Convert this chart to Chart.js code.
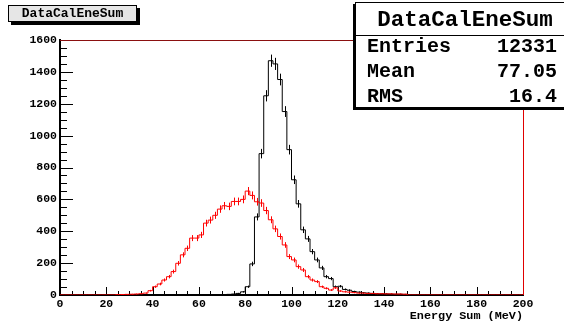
<!DOCTYPE html>
<html><head><meta charset="utf-8">
<script src="https://cdn.jsdelivr.net/npm/chart.js@4/dist/chart.umd.min.js"></script>
<style>
html,body{margin:0;padding:0;background:#fff;}
#wrap{position:relative;width:564px;height:324px;overflow:hidden;background:#fff;}
#c{position:absolute;left:0;top:0;}
.mono{font-family:"Liberation Mono","DejaVu Sans Mono",monospace;font-weight:bold;color:#000;}
#tbox{position:absolute;left:8px;top:5px;width:127px;height:15px;background:#e6e6e6;border:1px solid #000;box-shadow:3px 3px 0 #000;font-size:13px;line-height:15px;text-align:center;}
#sbox{position:absolute;left:355px;top:2px;width:230px;height:104px;background:#fff;border:1px solid #000;box-shadow:-2px 2px 0 #000;}
#sep{position:absolute;left:355px;top:35px;width:230px;height:1px;background:#000;}
.st{position:absolute;white-space:pre;}
</style></head>
<body>
<div id="wrap">
<canvas id="c" width="564" height="324"></canvas>
<div id="tbox" class="mono">DataCalEneSum</div>
<div id="sbox"></div>
<div id="sep"></div>
<div class="st mono" style="left:355px;width:220px;top:7px;font-size:22.5px;line-height:26px;text-align:center;">DataCalEneSum</div>
<div class="st mono" style="left:367px;top:36px;font-size:20px;line-height:22px;">Entries</div>
<div class="st mono" style="right:7px;top:36px;font-size:20px;line-height:22px;">12331</div>
<div class="st mono" style="left:367px;top:61px;font-size:20px;line-height:22px;">Mean</div>
<div class="st mono" style="right:7px;top:61px;font-size:20px;line-height:22px;">77.05</div>
<div class="st mono" style="left:367px;top:86px;font-size:20px;line-height:22px;">RMS</div>
<div class="st mono" style="right:7px;top:86px;font-size:20px;line-height:22px;">16.4</div>
</div>
<script>
// ---- data: 100 bins of 2 MeV from 0 to 200 MeV ----
const xMin = 0;
const xMax = 200;
const binWidth = 2;
// black histogram counts per bin
const blackCounts = [
  0,0,0,0,0,0,0,0,0,0,            // 0-20
  0,0,0,0,0,0,0,0,0,0,            // 20-40
  0,0,0,0,0,0,0,0,0,0,            // 40-60
  1,1,2,2,3,3,4,6,10,20,          // 60-80
  52,195,490,887,1250,1470,1450,1352,1151,912,   // 80-100
  723,572,409,352,272,220,170,115,103,52,        // 100-120
  55,35,30,22,18,14,12,10,8,8,                   // 120-140
  7,6,5,5,4,0,0,0,0,0,                           // 140-160
  0,0,0,0,0,0,0,0,0,0,            // 160-180
  0,0,0,0,0,0,0,0,0,0             // 180-200
];
// red histogram counts per bin
const redCounts = [
  0,0,0,0,0,0,0,0,0,0,            // 0-20
  0,0,2,3,4,5,6,8,12,27,          // 20-40
  52,69,94,115,147,199,252,293,357,357,          // 40-60
  377,451,470,500,539,560,556,587,587,600,       // 60-80
  652,625,585,577,530,472,415,367,314,241,       // 80-100
  220,178,157,115,94,84,52,42,31,45,             // 100-120
  25,20,18,15,12,12,10,10,8,8,                   // 120-140
  7,7,6,6,5,0,0,0,0,0,                           // 140-160
  0,0,0,0,0,0,0,0,0,0,            // 160-180
  0,0,0,0,0,0,0,0,0,0             // 180-200
];
const xTickLabels = [0,20,40,60,80,100,120,140,160,180,200];
const yTickLabels = [0,200,400,600,800,1000,1200,1400,1600];
const xMinorStep = 5;
const yMinorStep = 50;

function histPoints(counts){
  const pts = [];
  for (let i = 0; i < counts.length; i++) pts.push({x: xMin + i*binWidth, y: counts[i]});
  pts.push({x: xMin + counts.length*binWidth, y: counts[counts.length-1]});
  return pts;
}

const FONT = '"Liberation Mono","DejaVu Sans Mono",monospace';

const rootAxes = {
  id: 'rootAxes',
  beforeDatasetsDraw(chart){
    const {ctx, chartArea: a, scales: {x, y}} = chart;
    ctx.save();
    ctx.strokeStyle = '#000';
    ctx.lineWidth = 1;
    ctx.beginPath();
    for (let v = xMin; v <= xMax + 1e-9; v += xMinorStep) {
      const px = Math.round(x.getPixelForValue(v)) + 0.5;
      const major = xTickLabels.includes(v);
      const len = major ? 8 : 4;
      ctx.moveTo(px, a.bottom);
      ctx.lineTo(px, a.bottom - len);
    }
    for (let v = 0; v <= 1600 + 1e-9; v += yMinorStep) {
      const py = Math.round(y.getPixelForValue(v)) + 0.5;
      const major = yTickLabels.includes(v);
      const len = major ? 13 : 7;
      ctx.moveTo(a.left, py);
      ctx.lineTo(a.left + len, py);
    }
    ctx.stroke();
    ctx.restore();
  },
  afterDatasetsDraw(chart){
    const {ctx, scales: {x, y}} = chart;
    ctx.save();
    ctx.lineWidth = 1;
    const sets = [[blackCounts, '#000'], [redCounts, '#ff0000']];
    for (const [counts, col] of sets) {
      ctx.strokeStyle = col;
      ctx.beginPath();
      for (let i = 0; i < counts.length; i++) {
        const v = counts[i];
        if (v <= 0) continue;
        const e = Math.sqrt(v);
        const px = Math.round(x.getPixelForValue(xMin + (i + 0.5)*binWidth)) + 0.5;
        ctx.moveTo(px, y.getPixelForValue(v + e));
        ctx.lineTo(px, y.getPixelForValue(Math.max(0, v - e)));
      }
      ctx.stroke();
    }
    ctx.restore();
  },
  afterDraw(chart){
    const {ctx, chartArea: a} = chart;
    ctx.save();
    ctx.lineWidth = 1;
    ctx.strokeStyle = '#8b1010';
    ctx.beginPath();
    ctx.moveTo(a.left, a.top + 0.5);
    ctx.lineTo(a.right, a.top + 0.5);
    ctx.stroke();
    ctx.strokeStyle = '#e00000';
    ctx.beginPath();
    ctx.moveTo(a.right + 0.5, a.top);
    ctx.lineTo(a.right + 0.5, a.bottom);
    ctx.stroke();
    ctx.restore();
  }
};

new Chart(document.getElementById('c'), {
  type: 'line',
  data: {
    datasets: [
      {label: 'red', data: histPoints(redCounts), borderColor: '#ff0000', borderWidth: 1,
       pointRadius: 0, stepped: 'before', fill: false, order: 0},
      {label: 'black', data: histPoints(blackCounts), borderColor: '#000000', borderWidth: 1,
       pointRadius: 0, stepped: 'before', fill: false, order: 1}
    ]
  },
  options: {
    responsive: false,
    animation: false,
    devicePixelRatio: 1,
    layout: {padding: {left: 0, right: 41, top: 40, bottom: 0}},
    plugins: {legend: {display: false}, tooltip: {enabled: false}, title: {display: false}},
    scales: {
      x: {
        type: 'linear', min: xMin, max: xMax,
        afterFit(s){ s.height = 29; },
        afterBuildTicks(s){ s.ticks = xTickLabels.map(v => ({value: v})); },
        grid: {display: false, drawTicks: false},
        border: {display: true, color: '#000', width: 2},
        ticks: {autoSkip: false, maxRotation: 0, padding: 2, color: '#000',
                callback: v => String(v),
                font: {family: FONT, size: 11.5, weight: 'bold'}},
        title: {display: true, text: 'Energy Sum (MeV)', align: 'end', color: '#000',
                padding: {top: 0, bottom: 1}, font: {family: FONT, size: 11.8, weight: 'bold'}}
      },
      y: {
        type: 'linear', min: 0, max: 1600,
        afterFit(s){ s.width = 60; },
        afterBuildTicks(s){ s.ticks = yTickLabels.map(v => ({value: v})); },
        grid: {display: false, drawTicks: false},
        border: {display: true, color: '#000', width: 2},
        ticks: {autoSkip: false, padding: 3, color: '#000',
                callback: v => String(v),
                font: {family: FONT, size: 11.5, weight: 'bold'}}
      }
    }
  },
  plugins: [rootAxes]
});
</script>
</body></html>
